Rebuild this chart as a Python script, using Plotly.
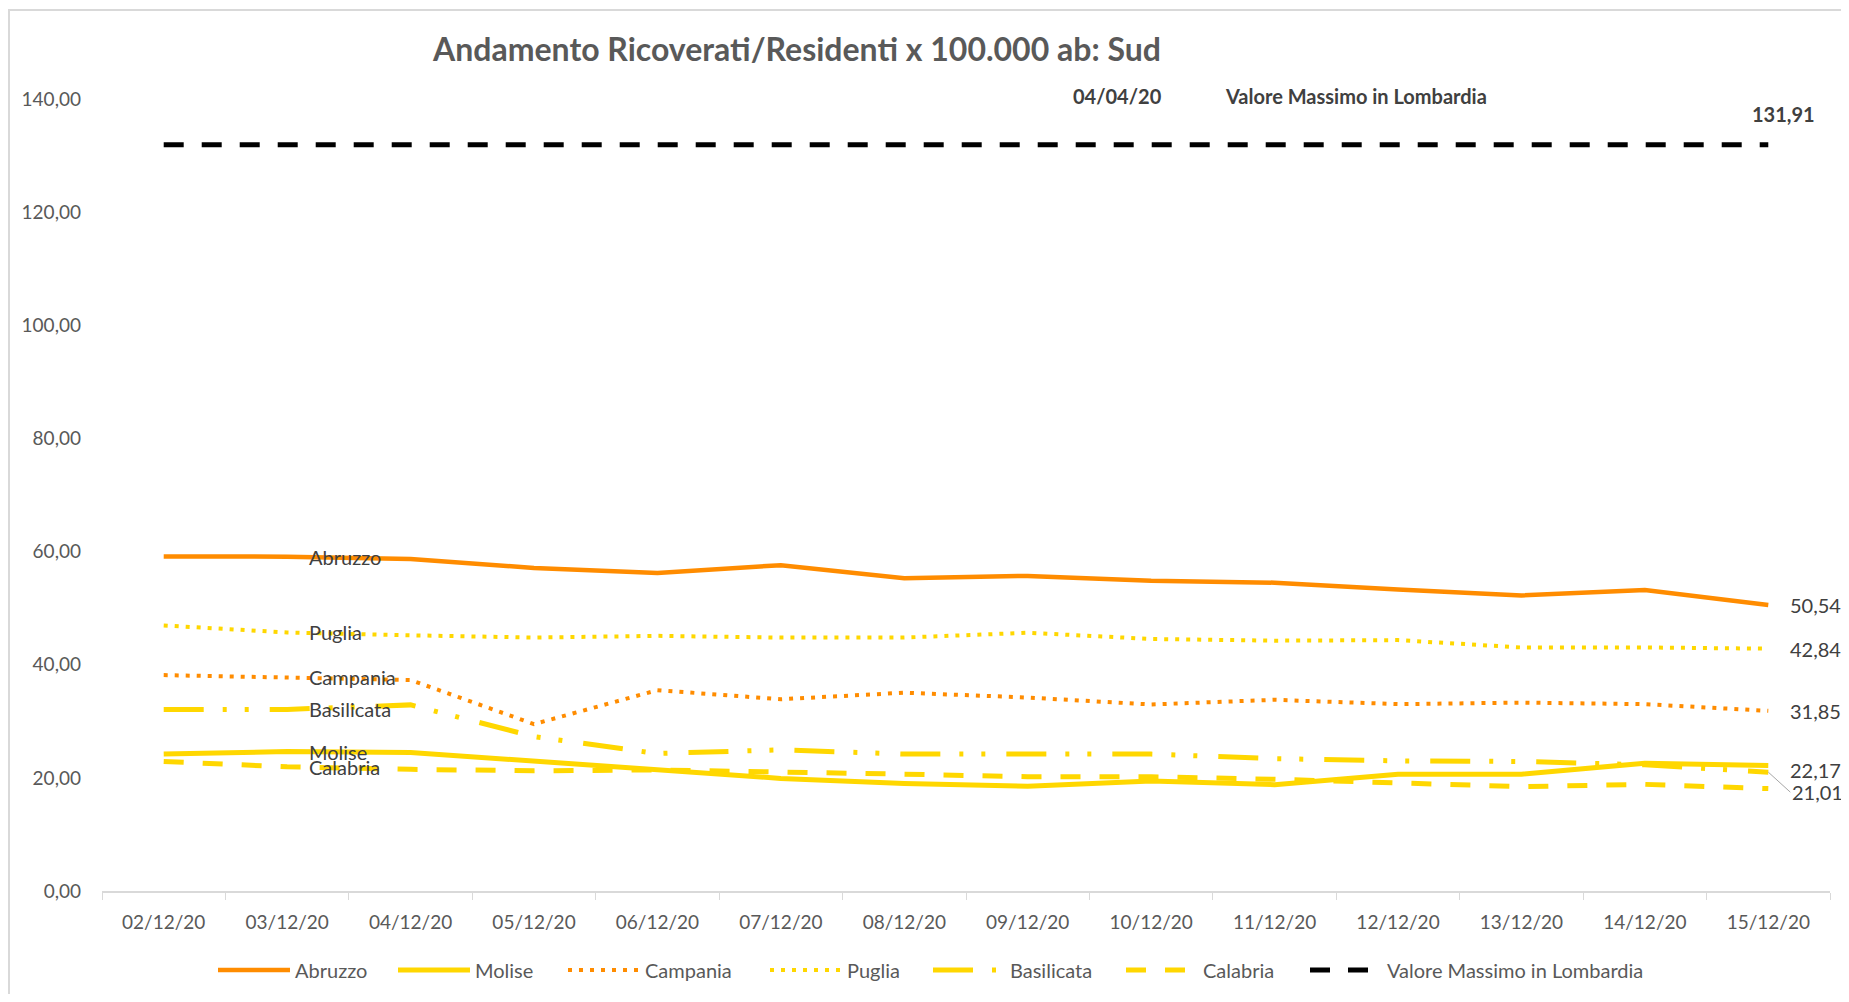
import plotly.graph_objects as go

dates = ["02/12/20", "03/12/20", "04/12/20", "05/12/20", "06/12/20", "07/12/20", "08/12/20",
         "09/12/20", "10/12/20", "11/12/20", "12/12/20", "13/12/20", "14/12/20", "15/12/20"]

abruzzo = [59.15, 59.10, 58.70, 57.10, 56.20, 57.60, 55.30, 55.70, 54.85, 54.50, 53.30, 52.25, 53.20, 50.54]
molise = [24.20, 24.65, 24.50, 23.00, 21.30, 19.90, 19.00, 18.50, 19.45, 18.80, 20.65, 20.65, 22.60, 22.17]
campania = [38.16, 37.80, 37.30, 29.50, 35.50, 33.90, 35.05, 34.20, 32.97, 33.80, 33.03, 33.30, 33.03, 31.85]
puglia = [46.95, 45.70, 45.20, 44.80, 45.10, 44.80, 44.80, 45.65, 44.55, 44.25, 44.35, 43.05, 43.05, 42.84]
basilicata = [32.10, 32.10, 32.90, 27.30, 24.30, 24.95, 24.20, 24.20, 24.20, 23.40, 23.00, 22.90, 22.30, 21.01]
calabria = [22.90, 21.95, 21.50, 21.25, 21.40, 21.10, 20.65, 20.20, 20.20, 19.75, 19.20, 18.45, 18.85, 18.10]
lombardia = [131.91, 131.91, 131.91, 131.91, 131.91, 131.91, 131.91,
             131.91, 131.91, 131.91, 131.91, 131.91, 131.91, 131.91]

lombardia_date = "04/04/20"
lombardia_label = "Valore Massimo in Lombardia"
title_text = "Andamento Ricoverati/Residenti x 100.000 ab: Sud"

ORANGE = "#FF8C00"
GOLD = "#FFD700"
FONT = "Lato, Carlito, sans-serif"
GRAY_TXT = "#595959"
DARK_TXT = "#404040"

# name, values, colour, dash, width, legend entry width
series = [
    ("Abruzzo", abruzzo, ORANGE, "solid", 4.5, 93),
    ("Molise", molise, GOLD, "solid", 5, 83),
    ("Campania", campania, ORANGE, "4px,7px", 4, 115),
    ("Puglia", puglia, GOLD, "4px,7px", 4, 76),
    ("Basilicata", basilicata, GOLD, "40px,19px,4px,18px,4px,21px", 5, 106),
    ("Calabria", calabria, GOLD, "20px,19px", 5, 97),
    ("Valore Massimo in Lombardia", lombardia, "#000000", "20px,18px", 5, 270),
]

fig = go.Figure()
for name, vals, col, dash, w, lw in series:
    fig.add_trace(go.Scatter(x=dates, y=vals, name=name, mode="lines", legendwidth=lw,
                             line=dict(color=col, width=w, dash=dash)))

def fmt(v):
    return f"{v:.2f}".replace(".", ",")

LBL = dict(family=FONT, size=20, color=DARK_TXT)
BLBL = dict(family=FONT, size=20, color=DARK_TXT, weight="bold")

annotations = []
# series-name labels at second point
for name, vals, col, dash, w, lw in series[:6]:
    annotations.append(dict(x=dates[1], y=vals[1], text=name, showarrow=False,
                            xanchor="left", yanchor="middle", xshift=20, font=LBL))
# end value labels
for vals in (abruzzo, puglia, campania):
    annotations.append(dict(x=dates[-1], y=vals[-1], text=fmt(vals[-1]), showarrow=False,
                            xanchor="left", yanchor="middle", xshift=20, font=LBL))
annotations.append(dict(x=dates[-1], y=molise[-1], text=fmt(molise[-1]), showarrow=False,
                        xanchor="left", yanchor="middle", xshift=20, yshift=-4, font=LBL))
annotations.append(dict(x=dates[-1], y=basilicata[-1], text=fmt(basilicata[-1]), showarrow=True,
                        arrowhead=0, arrowwidth=1, arrowcolor="#A6A6A6", ax=22, ay=20,
                        xanchor="left", yanchor="middle", standoff=0, font=LBL))
# Lombardia labels
annotations.append(dict(x=dates[-1], y=lombardia[-1], text=fmt(lombardia[-1]), showarrow=False,
                        xanchor="center", yanchor="middle", xshift=15, yshift=31, font=BLBL))
annotations.append(dict(x=dates[8], y=lombardia[8], text=lombardia_date, showarrow=False,
                        xanchor="right", yanchor="middle", xshift=13, yshift=49, font=BLBL))
annotations.append(dict(x=dates[8], y=lombardia[8], text=lombardia_label, showarrow=False,
                        xanchor="left", yanchor="middle", xshift=72, yshift=49, font=BLBL))

W, H = 1833, 986
L, T = 94, 91
R = W - 1822
B = H - 883
PW = W - L - R
PH = H - T - B

fig.update_layout(
    width=W, height=H,
    autosize=False,
    paper_bgcolor="white", plot_bgcolor="white",
    margin=dict(l=L, r=R, t=T, b=B),
    separators=",.",
    title=dict(text=title_text, x=789 / W, xanchor="center", xref="container",
               y=1 - 41.5 / H, yanchor="middle", yref="container",
               font=dict(family=FONT, size=32, color=GRAY_TXT, weight="bold")),
    font=dict(family=FONT, size=20, color=GRAY_TXT),
    showlegend=True,
    legend=dict(orientation="h", x=(205 - L) / PW, xanchor="left",
                y=1 - 962 / H, yanchor="middle", yref="container",
                font=dict(family=FONT, size=20, color=GRAY_TXT), itemwidth=72,
                bgcolor="rgba(0,0,0,0)"),
    annotations=annotations,
    shapes=[dict(type="rect", xref="paper", yref="paper",
                 x0=(1 - L) / PW, x1=(W + 10 - L) / PW,
                 y0=-(H + 5 - 883) / PH, y1=(883 - 2) / PH,
                 line=dict(color="#D9D9D9", width=2), layer="below")],
)

fig.update_xaxes(type="category", range=[-0.5, 13.5], showgrid=False,
                 showline=True, linecolor="#D9D9D9", linewidth=2,
                 ticks="outside", tickson="boundaries", ticklen=7, tickcolor="#D9D9D9",
                 tickwidth=1, ticklabelstandoff=13,
                 tickfont=dict(family=FONT, size=19, color=GRAY_TXT), zeroline=False)
fig.update_yaxes(range=[0, 140], dtick=20, tick0=0, tickformat=".2f", showgrid=False,
                 showline=False, zeroline=False, ticks="", ticklabelstandoff=20,
                 tickfont=dict(family=FONT, size=19, color=GRAY_TXT))

fig.write_html("out.html")
